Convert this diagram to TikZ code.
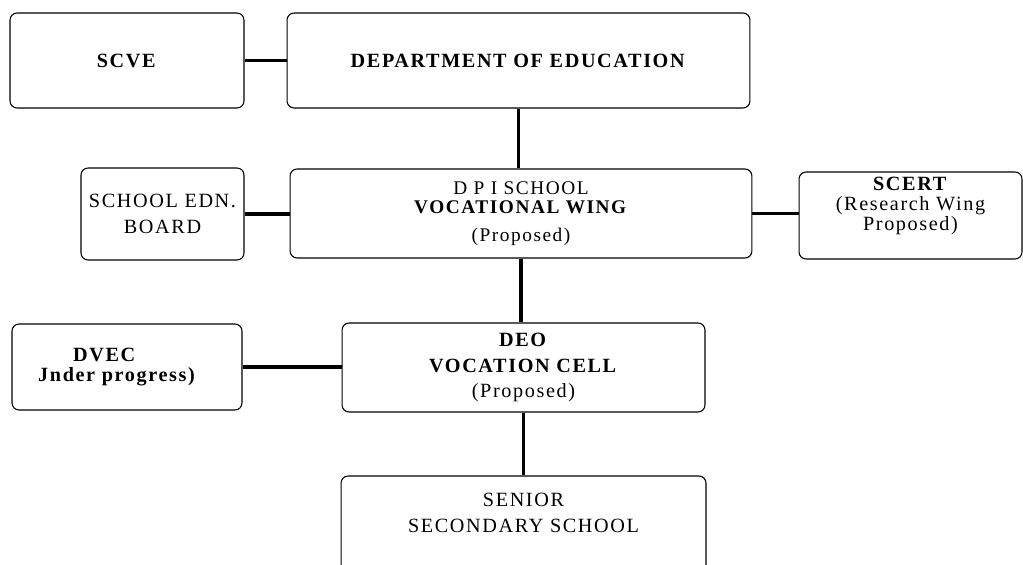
\documentclass[tikz,border=0pt]{standalone}
\usepackage{fontspec}
\setmainfont{Liberation Serif}[LetterSpace=8]

\begin{document}
\begin{tikzpicture}[x=0.02cm, y=-0.02cm,
    box/.style={rectangle, rounded corners=4pt, draw=black, line width=0.6pt,
                inner sep=1pt, align=center,
                font=\fontsize{11.5}{14.5}\selectfont},
    link/.style={draw=black, line width=2.2pt}
  ]
    \useasboundingbox (0,0) rectangle (1023,564);
    \clip (0,0) rectangle (1023,564);
    % Top row
    \node[box, minimum width=4.68cm, minimum height=1.90cm] (scve) at (127,60.5)
      {\textbf{SCVE}};
    \node[box, minimum width=9.26cm, minimum height=1.90cm] (dept) at (518.5,60.5)
      {\textbf{DEPARTMENT OF EDUCATION}};
    % Middle row
    \node[box, minimum width=3.26cm, minimum height=1.84cm] (board) at (162.5,214)
      {SCHOOL EDN.\\BOARD};
    \node[box, minimum width=9.24cm, minimum height=1.78cm,
          font=\fontsize{11}{11}\selectfont] (dpi) at (521,213.5)
      {D P I SCHOOL\\\textbf{VOCATIONAL WING}\\[5pt](Proposed)};
    \node[box, minimum width=4.46cm, minimum height=1.74cm,
          font=\fontsize{11.5}{11.5}\selectfont] (scert) at (910.5,215.5)
      {\textbf{SCERT}\\(Research Wing\\Proposed)\\[2pt]\mbox{}};
    % Lower row
    \node[box, minimum width=4.60cm, minimum height=1.72cm,
          font=\fontsize{11.5}{11.5}\selectfont] (dvec) at (127,367)
      {\textbf{DVEC}\hspace*{25pt}\\\textbf{Jnder progress)}\hspace*{11pt}};
    \node[box, minimum width=7.26cm, minimum height=1.78cm] (deo) at (523.5,367.5)
      {\textbf{DEO}\\\textbf{VOCATION CELL}\\(Proposed)};
    % Bottom (runs off the page)
    \node[box, minimum width=7.30cm, minimum height=2.40cm] (senior) at (523.5,536)
      {SENIOR\\SECONDARY SCHOOL\\[12pt]\mbox{}};

    % Connectors
    \draw[link] (scve.east) -- (scve.east -| dept.west);
    \draw[link] (dept.south) -- (dept.south |- dpi.north);
    \draw[link] (board.east) -- (board.east -| dpi.west);
    \draw[link] (dpi.east) -- (dpi.east -| scert.west);
    \draw[link] (dpi.south) -- (dpi.south |- deo.north);
    \draw[link] (dvec.east) -- (dvec.east -| deo.west);
    \draw[link] (deo.south) -- (deo.south |- senior.north);
  \end{tikzpicture}
\end{document}
